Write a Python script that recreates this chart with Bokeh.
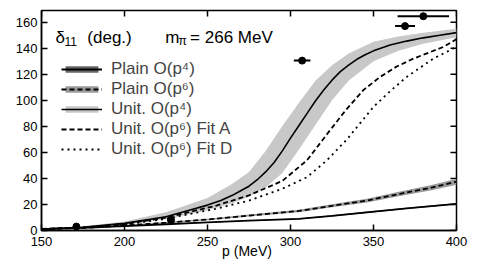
import numpy as np
from bokeh.plotting import figure
from bokeh.models import Range1d, Label, Legend, LegendItem, FixedTicker
from bokeh.embed import file_html
from bokeh.resources import INLINE

# ---- data ----
# Unitarized O(p^4): central curve and band
unit4_p = [150, 175, 200, 225, 240, 250, 258, 265, 270, 275, 280, 285, 290, 295, 300, 305, 310, 315,
           320, 325, 330, 335, 340, 345, 350, 360, 370, 380, 390, 400]
unit4_y = [1.2, 2.5, 5.5, 10.5, 16, 19.5, 23, 27, 30.5, 34, 39, 45, 52, 61, 71, 80.5, 90, 99.5,
           108, 115.5, 122, 127, 131.5, 135, 138, 142.5, 145.5, 148, 150, 152]
unit4_band_p = [150, 175, 200, 225, 250, 265, 275, 285, 295, 305, 315, 325, 335, 350, 365, 380, 400]
unit4_band_hi = [1.5, 3.2, 7, 14, 25, 36, 45, 61, 80, 98, 115, 127, 136, 145, 149, 152, 155]
unit4_band_lo = [1, 2, 4.5, 8.7, 15.5, 21, 26, 33, 44, 62, 81, 100, 115, 130, 138, 143.5, 148.5]

# Unitarized O(p^6) Fit A (dashed)
fitA_p = [150, 175, 200, 225, 235, 255, 275, 295, 310, 322, 333, 344, 354, 364, 374, 384, 392, 400]
fitA_y = [1.2, 2.3, 5, 10, 13, 19, 27, 38, 54, 74, 92, 108, 118, 126, 132, 137, 141, 147]

# Unitarized O(p^6) Fit D (dotted)
fitD_p = [150, 175, 200, 225, 255, 275, 295, 310, 322, 334, 350, 360, 370, 386, 400]
fitD_y = [1.1, 2.2, 4.5, 9, 16.7, 23, 32, 41, 54, 70, 95, 107, 118, 132, 141]

# Plain O(p^6) (dashed with band)
plain6_p = [150, 175, 200, 225, 250, 275, 305, 325, 346, 366, 385, 400]
plain6_y = [1, 2, 3.8, 6, 8.5, 11.5, 15, 19, 23, 28.2, 33, 37.5]
plain6_err = [0.2, 0.3, 0.4, 0.5, 0.6, 0.8, 1.0, 1.2, 1.4, 1.7, 2.0, 2.3]

# Plain O(p^4) (solid with thin band)
plain4_p = [150, 175, 200, 225, 250, 275, 305, 325, 346, 370, 400]
plain4_y = [1, 2, 3.3, 4.8, 6.2, 7.6, 9, 11.3, 14, 17, 20.5]
plain4_err = [0.1, 0.15, 0.2, 0.25, 0.3, 0.35, 0.4, 0.45, 0.5, 0.55, 0.6]

# lattice points
pts_p = [171, 228, 307, 369, 380]
pts_y = [3, 8, 130.5, 157, 164.6]
pts_xerr = [2, 2, 5, 6, 15.5]

x_ticks = [150, 200, 250, 300, 350, 400]
y_ticks = [0, 20, 40, 60, 80, 100, 120, 140, 160]

FONT = "Liberation Sans"
X0, X1, Y0, Y1 = 150, 400, 0, 169

p = figure(width=482, height=273, output_backend="svg", toolbar_location=None,
           x_range=Range1d(X0, X1), y_range=Range1d(Y0, Y1),
           min_border_left=41, min_border_right=26, min_border_top=10, min_border_bottom=43)
p.xgrid.visible = False
p.ygrid.visible = False
p.outline_line_color = "black"
p.outline_line_width = 1.5
p.background_fill_color = "white"

def style_axis(ax, ticks, standoff):
    ax.ticker = FixedTicker(ticks=ticks)
    ax.major_tick_in = 6
    ax.major_tick_out = 0
    ax.minor_tick_line_color = None
    ax.major_tick_line_width = 1.5
    ax.axis_line_width = 1.5
    ax.axis_line_color = "black"
    ax.major_tick_line_color = "black"
    ax.major_label_text_font = FONT
    ax.major_label_text_color = "black"
    ax.major_label_text_font_size = "13px"
    ax.major_label_standoff = standoff

style_axis(p.xaxis[0], x_ticks, 6)
style_axis(p.yaxis[0], y_ticks, 4)

# inward ticks on the top and right frame edges
p.ray(x=x_ticks, y=[Y1] * len(x_ticks), length=6, length_units="screen",
      angle=-np.pi / 2, line_color="black", line_width=1.5)
p.ray(x=[X1] * len(y_ticks), y=y_ticks, length=6, length_units="screen",
      angle=np.pi, line_color="black", line_width=1.5)

# bands
r_u4_band = p.varea(x=unit4_band_p, y1=unit4_band_lo, y2=unit4_band_hi, fill_color="#c8c8c8")
p6_lo = [y - e for y, e in zip(plain6_y, plain6_err)]
p6_hi = [y + e for y, e in zip(plain6_y, plain6_err)]
r_p6_band = p.varea(x=plain6_p, y1=p6_lo, y2=p6_hi, fill_color="#9a9a9a")
p4_lo = [y - e for y, e in zip(plain4_y, plain4_err)]
p4_hi = [y + e for y, e in zip(plain4_y, plain4_err)]
r_p4_band = p.varea(x=plain4_p, y1=p4_lo, y2=p4_hi, fill_color="#666666")

# curves
r_p4_line = p.line(plain4_p, plain4_y, line_color="black", line_width=1.8)
r_p6_line = p.line(plain6_p, plain6_y, line_color="black", line_width=1.8, line_dash="5 3")
r_u4_line = p.line(unit4_p, unit4_y, line_color="black", line_width=1.6)
r_fa_line = p.line(fitA_p, fitA_y, line_color="black", line_width=1.8, line_dash="5 3")
r_fd_line = p.line(fitD_p, fitD_y, line_color="black", line_width=1.8, line_dash="2 4")

# data points with horizontal errors
x_lo = [x - e for x, e in zip(pts_p, pts_xerr)]
x_hi = [x + e for x, e in zip(pts_p, pts_xerr)]
p.segment(x0=x_lo, y0=pts_y, x1=x_hi, y1=pts_y, line_color="black", line_width=2)
p.scatter(pts_p, pts_y, size=7, color="black")

legend = Legend(items=[
    LegendItem(label="Plain O(p⁴)", renderers=[r_p4_band, r_p4_line]),
    LegendItem(label="Plain O(p⁶)", renderers=[r_p6_band, r_p6_line]),
    LegendItem(label="Unit. O(p⁴)", renderers=[r_u4_band, r_u4_line]),
    LegendItem(label="Unit. O(p⁶) Fit A", renderers=[r_fa_line]),
    LegendItem(label="Unit. O(p⁶) Fit D", renderers=[r_fd_line]),
], location=(20, 71))
legend.glyph_width = 41
legend.glyph_height = 8
legend.label_text_font = FONT
legend.label_text_font_size = "17px"
legend.label_standoff = 9
legend.label_height = 20
legend.padding = 0
legend.margin = 0
legend.spacing = 0
legend.border_line_alpha = 0
legend.background_fill_alpha = 0
p.add_layout(legend)

def lab(x, y, t, size="17px", place=None):
    l = Label(x=x, y=y, text=t, text_font=FONT, text_font_size=size,
              text_baseline="middle", text_align="left", text_color="black")
    if place is None:
        p.add_layout(l)
    else:
        p.add_layout(l, place)

lab(158.4, 148.5, "δ")
lab(163.8, 145.4, "11", "12px")
lab(177.6, 148.5, "(deg.)")
lab(224.5, 148.5, "m")
lab(232.6, 145.4, "π", "12px")
lab(239.5, 148.5, "= 266 MeV")
lab(258.8, -15.4, "p (MeV)", "14px", "below")

open("out.html", "w").write(file_html(p, INLINE))
